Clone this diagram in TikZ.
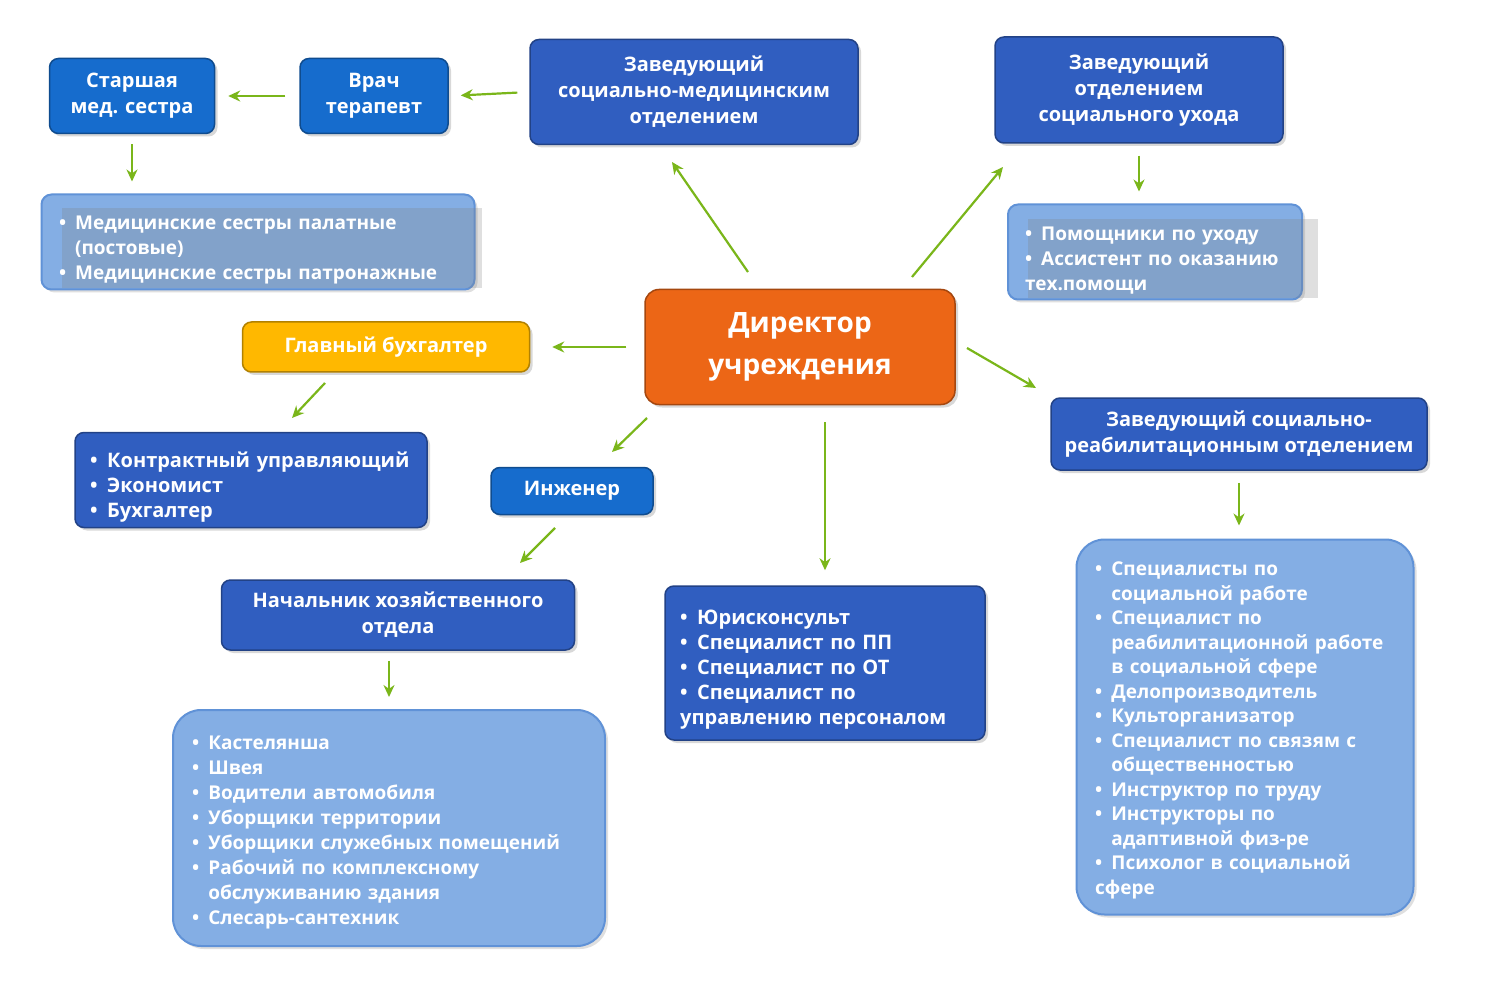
\documentclass[tikz,border=0pt]{standalone}
\usepackage{fontspec}
\setmainfont{Open Sans}
\usetikzlibrary{shadows,arrows.meta}
\definecolor{dkb}{RGB}{48,94,192}
\definecolor{brb}{RGB}{22,108,205}
\definecolor{ltb}{RGB}{132,174,228}
\definecolor{ltbd}{RGB}{96,146,215}
\definecolor{org}{RGB}{236,102,22}
\definecolor{yel}{RGB}{255,184,0}
\definecolor{grn}{RGB}{122,182,26}
\newcommand\itm{\par\hangindent=0.85em\hangafter=1\noindent\makebox[0.85em][l]{•}}
\begin{document}
\begin{tikzpicture}[x=1pt,y=-1pt,
 box/.style={draw=#1!70!black,line width=1.5pt,fill=#1,rounded corners=9pt,text=white,font=\bfseries\fontsize{20}{26}\selectfont,align=center,inner sep=0pt,drop shadow={opacity=0.3,shadow xshift=3pt,shadow yshift=-3pt}},
 lst/.style={draw=ltbd,line width=2pt,fill=ltb,rounded corners=#1,text=white,font=\bfseries\fontsize{19}{25}\selectfont,inner sep=0pt,drop shadow={opacity=0.25,shadow xshift=3pt,shadow yshift=-3pt}},
 arr/.style={draw=grn,line width=2.2pt,-{Stealth[length=12pt,width=11pt]}}]
\useasboundingbox[fill=white] (0,0) rectangle (1500,1000);
\node[box=brb,minimum width=165,minimum height=75] (star) at (132,96) {Старшая\\мед. сестра};
\node[box=brb,minimum width=148,minimum height=75] (vrach) at (374,96) {Врач\\терапевт};
\node[box=dkb,minimum width=328,minimum height=105] (zsm) at (694,92) {Заведующий\\социально-медицинским\\отделением};
\node[box=dkb,minimum width=288,minimum height=106] (zsu) at (1139,90) {Заведующий\\отделением\\социального ухода};
\node[lst=10pt,minimum width=433,minimum height=95] (med) at (258,242) {};
\node[lst=0pt,draw=none,fill=none,drop shadow={opacity=0},text width=420,anchor=north west] at (58,204) {\itm Медицинские сестры палатные\newline(постовые)\itm Медицинские сестры патронажные};
\node[lst=10pt,minimum width=294,minimum height=95] (pom) at (1155,252) {};
\node[lst=0pt,draw=none,fill=none,drop shadow={opacity=0},text width=290,anchor=north west] at (1024,215) {\itm Помощники по уходу\itm Ассистент по оказанию\newline тех.помощи};
\node[box=org,rounded corners=14pt,minimum width=310,minimum height=115,font=\bfseries\fontsize{28}{42}\selectfont] (dir) at (800,347) {Директор\\учреждения};
\node[box=yel,minimum width=287,minimum height=50] (gb) at (386,347) {Главный бухгалтер};
\node[box=dkb,minimum width=352,minimum height=95,align=left] (kon) at (251,480) {};
\node[text=white,font=\bfseries\fontsize{20}{25}\selectfont,text width=340,anchor=north west,inner sep=0pt] at (90,442) {\itm Контрактный управляющий\itm Экономист\itm Бухгалтер};
\node[box=brb,minimum width=162,minimum height=47] (ing) at (572,491) {Инженер};
\node[box=dkb,minimum width=376,minimum height=72] (zr) at (1239,434) {Заведующий социально-\\реабилитационным отделением};
\node[lst=28pt,minimum width=337,minimum height=375] (rl) at (1245,727) {};
\node[text=white,font=\bfseries\fontsize{19}{24.5}\selectfont,text width=320,anchor=north west,inner sep=0pt] at (1095,551) {\itm Специалисты по\newline социальной работе\itm Специалист по\newline реабилитационной работе\newline в социальной сфере\itm Делопроизводитель\itm Культорганизатор\itm Специалист по связям с\newline общественностью\itm Инструктор по труду\itm Инструкторы по\newline адаптивной физ-ре\itm Психолог в социальной\newline сфере};
\node[box=dkb,minimum width=353,minimum height=70] (nach) at (398,615) {Начальник хозяйственного\\отдела};
\node[box=dkb,minimum width=320,minimum height=154] (yur) at (825,663) {};
\node[text=white,font=\bfseries\fontsize{20}{25}\selectfont,text width=310,anchor=north west,inner sep=0pt] at (680,599) {\itm Юрисконсульт\itm Специалист по ПП\itm Специалист по ОТ\itm Специалист по\newline управлению персоналом};
\node[lst=28pt,minimum width=432,minimum height=236] (kas) at (389,828) {};
\node[text=white,font=\bfseries\fontsize{19}{25}\selectfont,text width=420,anchor=north west,inner sep=0pt] at (192,724) {\itm Кастелянша\itm Швея\itm Водители автомобиля\itm Уборщики территории\itm Уборщики служебных помещений\itm Рабочий по комплексному\newline обслуживанию здания\itm Слесарь-сантехник};
% arrows
\draw[arr,shorten <=14pt,shorten >=13pt] (vrach.west) -- (star.east);
\draw[arr,shorten <=12pt,shorten >=12pt] (zsm.west) -- (vrach.east);
\draw[arr,shorten <=10pt,shorten >=12pt] (star.south) -- (med.north-|star.south);
\draw[arr,shorten <=12pt,shorten >=12pt] (zsu.south) -- (pom.north-|zsu.south);
\draw[arr,shorten <=18pt,shorten >=22pt] (dir.west) -- (gb.east);
\draw[arr,shorten <=12pt,shorten >=13pt] (zr.south) -- (rl.north-|zr.south);
\draw[arr,shorten <=17pt,shorten >=15pt] (dir.south-|yur.north) -- (yur.north);
\draw[arr,shorten <=10pt,shorten >=12pt] (nach.south-|kas.north) -- (kas.north);
\coordinate (a1) at (748,272); \coordinate (b1) at (672,162);
\coordinate (a2) at (912,277); \coordinate (b2) at (1003,167);
\coordinate (a3) at (325,383); \coordinate (b3) at (292,418);
\coordinate (a4) at (647,418); \coordinate (b4) at (612,452);
\coordinate (a5) at (967,348); \coordinate (b5) at (1036,388);
\coordinate (a6) at (555,528); \coordinate (b6) at (520,563);
\foreach \i in {1,...,6} \draw[arr] (a\i) -- (b\i);
\end{tikzpicture}
\end{document}
